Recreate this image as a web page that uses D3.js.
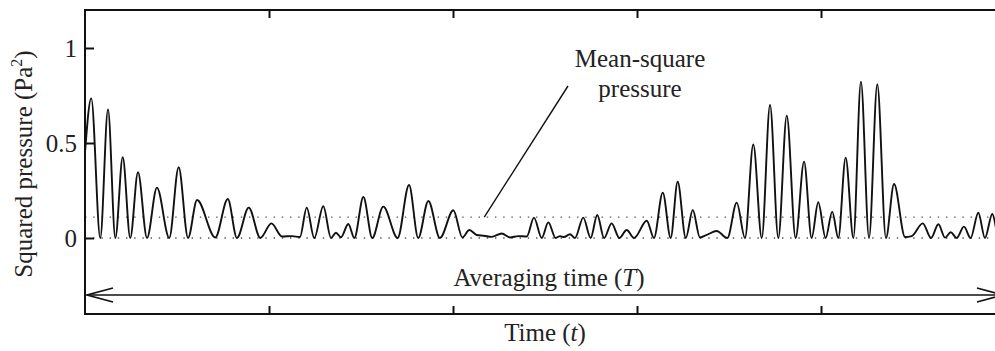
<!DOCTYPE html>
<html>
<head>
<meta charset="utf-8">
<script src="https://cdn.jsdelivr.net/npm/d3@7"></script>
<style>
  html, body { margin: 0; padding: 0; background: #fff; }
  svg text { font-family: 'Liberation Serif', 'Times New Roman', serif; fill: #222; }
</style>
</head>
<body>
<div id="chart"></div>
<script>
// time (arbitrary units, frame = 0..5) and squared pressure (Pa^2)
const times = [
	0, 0.034, 0.083, 0.125, 0.165, 0.205, 0.246, 0.288, 0.337, 0.391,
	0.458, 0.509, 0.560, 0.609, 0.708, 0.776, 0.826, 0.890, 0.953, 1.013,
	1.071, 1.125, 1.168, 1.205, 1.246, 1.295, 1.337, 1.364, 1.391, 1.431,
	1.464, 1.513, 1.561, 1.621, 1.699, 1.761, 1.811, 1.866, 1.929, 2.002,
	2.051, 2.089, 2.129, 2.168, 2.210, 2.265, 2.310, 2.355, 2.401, 2.440,
	2.482, 2.518, 2.558, 2.582, 2.603, 2.636, 2.663, 2.708, 2.748, 2.784,
	2.821, 2.862, 2.904, 2.944, 2.984, 3.053, 3.092, 3.140, 3.183, 3.221,
	3.265, 3.303, 3.342, 3.379, 3.433, 3.491, 3.542, 3.587, 3.632, 3.678,
	3.723, 3.768, 3.814, 3.862, 3.908, 3.949, 3.985, 4.025, 4.061, 4.094,
	4.134, 4.176, 4.217, 4.261, 4.306, 4.353, 4.397, 4.457, 4.493, 4.553,
	4.598, 4.638, 4.674, 4.705, 4.737, 4.777, 4.813, 4.855, 4.891, 4.931,
	4.967, 5.0
];
const pressureSq = [
	0.45, 0.735, 0, 0.677, 0, 0.425, 0, 0.346, 0, 0.265,
	0, 0.372, 0, 0.2, 0.003, 0.205, 0, 0.16, 0, 0.077,
	0.008, 0.01, 0.005, 0.16, 0, 0.167, 0, 0.028, 0.004, 0.074,
	0, 0.216, 0, 0.165, 0, 0.279, 0, 0.195, 0, 0.146,
	0.003, 0.042, 0.016, 0.012, 0.006, 0.024, 0.003, 0.01, 0.008, 0.107,
	0, 0.082, 0, 0.01, 0.005, 0.02, 0, 0.107, 0, 0.121,
	0, 0.077, 0, 0.042, 0, 0.091, 0, 0.239, 0, 0.296,
	0, 0.147, 0.003, 0.016, 0.037, 0, 0.186, 0, 0.493, 0,
	0.7, 0, 0.644, 0, 0.402, 0, 0.188, 0, 0.139, 0,
	0.423, 0, 0.823, 0, 0.809, 0, 0.284, 0.005, 0.01, 0.077,
	0, 0.072, 0.002, 0.03, 0, 0.06, 0, 0.133, 0, 0.126,
	0, 0.05
];
const meanSquare = 0.11;
const yTicks = [0, 0.5, 1];
const xTicks = [1, 2, 3, 4];
const arrowLevel = -0.3;

const W = 995, H = 351;

const x = d3.scaleLinear().domain([0, 5]).range([85, 1005]);
const y = d3.scaleLinear().domain([-0.4, 1.2]).range([314, 10]);

const svg = d3.select('#chart').append('svg')
		.attr('width', W)
		.attr('height', H);

// reference lines (zero and mean-square), dotted
svg.selectAll('line.ref')
		.data([0, meanSquare])
		.enter()
		.append('line')
		.attr('class', 'ref')
		.attr('x1', x(0)).attr('x2', x(5))
		.attr('y1', d => y(d)).attr('y2', d => y(d))
		.attr('stroke', '#555')
		.attr('stroke-width', 1.4)
		.attr('stroke-dasharray', '1.4,6.8');

// signal
const pts = times.map((t, i) => [t, pressureSq[i]]);
const line = d3.line()
		.x(d => x(d[0]))
		.y(d => y(d[1]))
		.curve(d3.curveMonotoneX);

svg.append('path')
		.datum(pts)
		.attr('d', line)
		.attr('fill', 'none')
		.attr('stroke', '#111')
		.attr('stroke-width', 1.9)
		.attr('stroke-linejoin', 'round');

// frame
svg.append('rect')
		.attr('x', x(0)).attr('y', y(1.2))
		.attr('width', x(5) - x(0))
		.attr('height', y(-0.4) - y(1.2))
		.attr('fill', 'none')
		.attr('stroke', '#111')
		.attr('stroke-width', 2);

// axes, ticks point inward
const yAxis = d3.axisLeft(y).tickValues(yTicks).tickSize(-9).tickSizeOuter(0)
		.tickPadding(8).tickFormat(d3.format(''));
const xAxisB = d3.axisBottom(x).tickValues(xTicks).tickSize(-8).tickSizeOuter(0).tickFormat('');
const xAxisT = d3.axisTop(x).tickValues(xTicks).tickSize(-8).tickSizeOuter(0).tickFormat('');

const gy = svg.append('g').attr('transform', `translate(${x(0)},0)`).call(yAxis);
const gb = svg.append('g').attr('transform', `translate(0,${y(-0.4)})`).call(xAxisB);
const gt = svg.append('g').attr('transform', `translate(0,${y(1.2)})`).call(xAxisT);

[gy, gb, gt].forEach(g => {
	g.select('.domain').remove();
	g.selectAll('.tick line').attr('stroke', '#111').attr('stroke-width', 2);
});
gy.selectAll('.tick text')
		.attr('font-size', 25)
		.attr('font-family', "'Liberation Serif', serif")
		.attr('fill', '#222');

// averaging time arrow
const ay = y(arrowLevel);
const xl = x(0) + 2, xr = x(5) - 2;
svg.append('line')
		.attr('x1', xl).attr('x2', xr)
		.attr('y1', ay).attr('y2', ay)
		.attr('stroke', '#111').attr('stroke-width', 1.7);
svg.append('path')
		.attr('d', `M${xl + 26},${ay - 7}L${xl},${ay}L${xl + 26},${ay + 7}M${xr - 26},${ay - 7}L${xr},${ay}L${xr - 26},${ay + 7}`)
		.attr('fill', 'none')
		.attr('stroke', '#111').attr('stroke-width', 1.7);

const avg = svg.append('text')
		.attr('x', 549).attr('y', ay - 9)
		.attr('text-anchor', 'middle')
		.attr('font-size', 25);
avg.append('tspan').text('Averaging time (');
avg.append('tspan').attr('font-style', 'italic').text('T');
avg.append('tspan').text(')');

// mean-square label and leader
svg.append('line')
		.attr('x1', x(2.17)).attr('y1', y(meanSquare))
		.attr('x2', 568).attr('y2', 86)
		.attr('stroke', '#111').attr('stroke-width', 1.4);
svg.append('text')
		.attr('x', 640).attr('y', 67)
		.attr('text-anchor', 'middle')
		.attr('font-size', 25)
		.text('Mean-square');
svg.append('text')
		.attr('x', 640).attr('y', 97)
		.attr('text-anchor', 'middle')
		.attr('font-size', 25)
		.text('pressure');

// axis titles
const xt = svg.append('text')
		.attr('x', 545).attr('y', 341)
		.attr('text-anchor', 'middle')
		.attr('font-size', 25);
xt.append('tspan').text('Time (');
xt.append('tspan').attr('font-style', 'italic').text('t');
xt.append('tspan').text(')');

const yt = svg.append('text')
		.attr('transform', 'translate(32,164) rotate(-90)')
		.attr('text-anchor', 'middle')
		.attr('font-size', 25);
yt.append('tspan').text('Squared pressure (Pa');
yt.append('tspan').attr('font-size', 16).attr('dy', -10).text('2');
yt.append('tspan').attr('dy', 10).text(')');
</script>
</body>
</html>
